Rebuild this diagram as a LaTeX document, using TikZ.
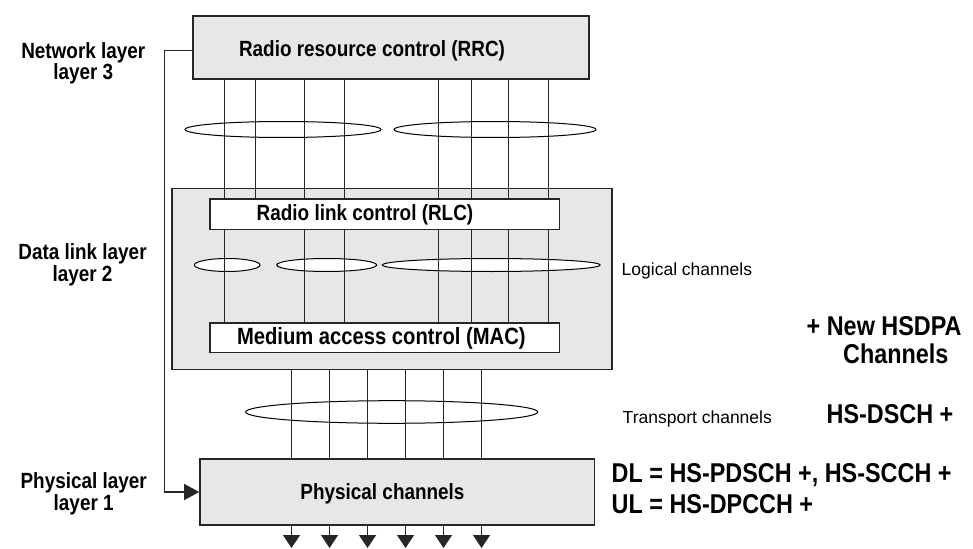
\documentclass[tikz,border=0pt]{standalone}
\usepackage{fontspec}
\setmainfont{Liberation Sans}
\newfontfamily\condf[FakeStretch=0.86]{Liberation Sans}
\usetikzlibrary{shapes.geometric,arrows.meta}
\definecolor{boxgray}{HTML}{E6E7E8}
\definecolor{edgegray}{HTML}{262626}
\tikzset{
  graybox/.style={rectangle, draw=edgegray, line width=1.6pt, fill=boxgray, inner sep=0pt},
  whitebox/.style={rectangle, draw=edgegray, line width=1.6pt, fill=white, inner sep=0pt},
  oval/.style={ellipse, draw=black, line width=1pt, fill=white, inner sep=0pt},
  chan/.style={draw=black!85, line width=1.3pt},
  txt/.style={inner sep=0pt, outer sep=0pt},
  boxfont/.style={font=\condf\bfseries\fontsize{22}{22}\selectfont},
  layerfont/.style={font=\condf\bfseries\fontsize{22}{22}\selectfont},
  bigfont/.style={font=\condf\bfseries\fontsize{27.2}{27.2}\selectfont},
  smallfont/.style={font=\fontsize{17.5}{17.5}\selectfont},
  downarrow/.style={chan, -{Triangle[width=17pt,length=13pt]}},
  sidearrow/.style={chan, -{Triangle[width=16pt,length=15pt]}}
}
\begin{document}
\begin{tikzpicture}[x=1pt,y=-1pt]
\useasboundingbox (0,0) rectangle (973,548);

% boxes
\node[graybox, minimum width=439.7pt, minimum height=181pt] (dll) at (391.85,279) {};
\node[graybox, minimum width=396pt, minimum height=63pt] (rrc) at (391,47.5) {};
\node[whitebox, minimum width=349.3pt, minimum height=30.3pt] (rlc) at (384.65,214.15) {};
\node[whitebox, minimum width=349.3pt, minimum height=29.6pt] (mac) at (384.65,337.5) {};
\node[graybox, minimum width=394.3pt, minimum height=66pt] (phys) at (397.15,492) {};

% ellipses
\node[oval, minimum width=196pt, minimum height=16pt] (up1) at (283,129.5) {};
\node[oval, minimum width=202pt, minimum height=16pt] (up2) at (495,129.5) {};
\node[oval, minimum width=65.7pt, minimum height=13pt] (lg1) at (227.2,265) {};
\node[oval, minimum width=100pt, minimum height=13pt] (lg2) at (326.7,265) {};
\node[oval, minimum width=217.7pt, minimum height=13pt] (lg3) at (491.2,265) {};
\node[oval, minimum width=292pt, minimum height=22.6pt] (tr) at (391.7,412) {};

% channels
\foreach \x in {224.5,255.5,304.5,344.5,438.5,471.5,508.5,548.5}
  \draw[chan] (\x,0 |- rrc.south) -- (\x,0 |- rlc.north);
\foreach \x in {224.5,304.5,344.5,438.5,471.5,508.5,548.5}
  \draw[chan] (\x,0 |- rlc.south) -- (\x,0 |- mac.north);
\foreach \x in {291.5,329.5,367.5,405.5,443.5,481.5}
  \draw[chan] (\x,0 |- dll.south) -- (\x,0 |- phys.north);
\coordinate (bottom) at (0,548);
\foreach \x in {291.5,329.5,367.5,405.5,443.5,481.5}
  \draw[downarrow] (\x,0 |- phys.south) -- (\x,0 |- bottom);

% bracket from RRC to physical layer
\coordinate (brk) at (164.5,50.5);
\draw[sidearrow] (rrc.west |- brk) -- (brk) -- (brk |- phys.west) -- (phys.west);

% box texts
\node[txt, boxfont, anchor=base] (rrct) at (372,56.7) {Radio resource control (RRC)};
\node[txt, boxfont, anchor=base] (rlct) at (365,220.7) {Radio link control (RLC)};
\node[txt, boxfont, anchor=base, font=\condf\bfseries\fontsize{23.5}{23.5}\selectfont] (mact) at (381.3,344) {Medium access control (MAC)};
\node[txt, boxfont, anchor=base] (physt) at (382.5,499.5) {Physical channels};

% layer labels
\node[txt, layerfont, anchor=base] (l3a) at (83.3,58.3) {Network layer};
\node[txt, layerfont, anchor=base] (l3b) at (83.3,80) {layer 3};
\node[txt, layerfont, anchor=base] (l2a) at (82.5,259.3) {Data link layer};
\node[txt, layerfont, anchor=base] (l2b) at (82.5,281) {layer 2};
\node[txt, layerfont, anchor=base] (l1a) at (83.7,488.3) {Physical layer};
\node[txt, layerfont, anchor=base] (l1b) at (83.7,510) {layer 1};

% right texts
\node[txt, smallfont, anchor=base west] (logt) at (621.7,275) {Logical channels};
\node[txt, smallfont, anchor=base west] (trt) at (622.7,423.3) {Transport channels};
\node[txt, bigfont, anchor=base west] (newh) at (806.7,335) {+ New HSDPA};
\node[txt, bigfont, anchor=base] (newc) at (895.8,363.3) {Channels};
\node[txt, bigfont, anchor=base west] (hsd) at (826.7,423.3) {HS-DSCH +};
\node[txt, bigfont, anchor=base west] (dl) at (611.7,482.7) {DL = HS-PDSCH +, HS-SCCH +};
\node[txt, bigfont, anchor=base west] (ul) at (611.7,513.3) {UL = HS-DPCCH +};
\end{tikzpicture}
\end{document}
